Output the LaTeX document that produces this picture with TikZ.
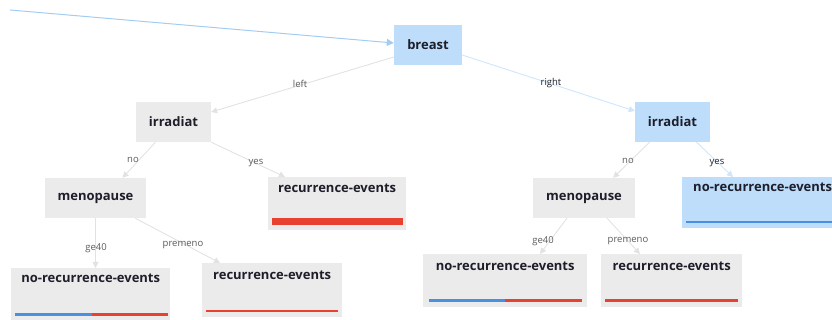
\documentclass[tikz,border=0pt]{standalone}
\usepackage{fontspec}
\setmainfont{Open Sans}
\usetikzlibrary{arrows.meta}
\definecolor{nodegray}{HTML}{EBEBEB}
\definecolor{nodeblue}{HTML}{BDDDFB}
\definecolor{edgegray}{HTML}{E2E2E2}
\definecolor{edgeblue}{HTML}{CFE5FB}
\definecolor{rootblue}{HTML}{A3CCF3}
\definecolor{barred}{HTML}{E8412F}
\definecolor{barblue}{HTML}{4A90E2}
\definecolor{txt}{HTML}{1E1E2A}
\definecolor{lbl}{HTML}{5A5A5A}
\tikzset{
  x=1pt, y=-1pt,
  inner/.style={rectangle, fill=nodegray, text=txt, font=\bfseries\fontsize{13}{15}\selectfont,
    minimum height=40pt, inner sep=0pt},
  leaf/.style={rectangle, fill=nodegray, text=txt, font=\bfseries\fontsize{13}{15}\selectfont,
    anchor=north west, inner sep=0pt},
  isblue/.style={fill=nodeblue},
  edge/.style={draw=edgegray, line width=0.9pt, -{Triangle[length=6pt,width=6pt,fill=edgegray]}},
  bedge/.style={draw=edgeblue, line width=0.9pt, -{Triangle[length=6pt,width=6pt,fill=edgeblue]}},
  elabel/.style={text=lbl, font=\fontsize{9.5}{11}\selectfont, inner sep=1pt},
}
\begin{document}
\begin{tikzpicture}
\useasboundingbox (0,0) rectangle (832,320);
\clip (0,0) rectangle (832,320);

% decision nodes
\node[inner, isblue, minimum width=68pt] (breast) at (428,45) {breast};
\node[inner, minimum width=75pt] (irrL) at (173.5,122) {irradiat};
\node[inner, isblue, minimum width=75pt] (irrR) at (672.5,122) {irradiat};
\node[inner, minimum width=101pt] (menoL) at (95.5,198) {menopause};
\node[inner, minimum width=102pt] (menoR) at (584,198) {menopause};

% leaves: text sits near the top, class bar along the bottom
\node[leaf, minimum width=138pt, text height=15pt, text depth=38pt] (yesL) at (268,177) {recurrence-events};
\node[leaf, isblue, text height=14pt, text depth=37pt] (yesR) at (682,177) {\hspace*{11pt}no-recurrence-events\hspace*{11pt}};
\node[leaf, minimum width=159pt, text height=14pt, text depth=38pt] (ge40L) at (11,268) {no-recurrence-events};
\node[leaf, minimum width=140pt, text height=16pt, text depth=38pt] (premL) at (202,263) {recurrence-events};
\node[leaf, minimum width=164pt, text height=16pt, text depth=37pt] (ge40R) at (423,254) {no-recurrence-events};
\node[leaf, minimum width=141pt, text height=16pt, text depth=37pt] (premR) at (601,254) {recurrence-events};

% class distribution bars
\fill[barred] ([xshift=4pt,yshift=5pt]yesL.south west) rectangle ([xshift=-3pt,yshift=12pt]yesL.south east);
\fill[barblue] ([xshift=4pt,yshift=5pt]yesR.south west) rectangle ([xshift=0pt,yshift=7pt]yesR.south east);
\fill[barblue] ([xshift=4pt,yshift=4pt]ge40L.south west) rectangle ([xshift=81pt,yshift=7pt]ge40L.south west);
\fill[barred] ([xshift=81pt,yshift=4pt]ge40L.south west) rectangle ([xshift=-2pt,yshift=7pt]ge40L.south east);
\fill[barred] ([xshift=4pt,yshift=5pt]premL.south west) rectangle ([xshift=-4pt,yshift=7pt]premL.south east);
\fill[barblue] ([xshift=6pt,yshift=5pt]ge40R.south west) rectangle ([xshift=82pt,yshift=8pt]ge40R.south west);
\fill[barred] ([xshift=82pt,yshift=5pt]ge40R.south west) rectangle ([xshift=-5pt,yshift=8pt]ge40R.south east);
\fill[barred] ([xshift=4pt,yshift=5pt]premR.south west) rectangle ([xshift=-4pt,yshift=8pt]premR.south east);

% incoming connector
\coordinate (start) at (10,10);
\draw[draw=rootblue, line width=1pt, -{Triangle[length=7pt,width=7pt,fill=rootblue]}] (start) -- ([yshift=2pt]breast.west);

% connectors
\draw[edge] ([yshift=-12pt]breast.west) -- ([yshift=10pt]irrL.east);
\draw[bedge] ([yshift=-10pt]breast.east) -- ([yshift=11pt]irrR.west);
\draw[edge] ([xshift=-18pt]irrL.south) -- ([xshift=27pt]menoL.north);
\draw[edge] (irrL.south east) -- ([xshift=17pt]yesL.north west);
\draw[edge] ([xshift=-23pt]irrR.south) -- ([xshift=-22pt]menoR.north east);
\draw[bedge] ([xshift=24pt]irrR.south) -- ([xshift=51pt]yesR.north west);
\draw[edge] (menoL.south) -- (menoL.south |- ge40L.north);
\draw[edge] ([xshift=-11pt]menoL.south east) -- ([xshift=18pt]premL.north west);
\draw[edge] ([xshift=-17pt]menoR.south) -- ([xshift=117pt]ge40R.north west);
\draw[edge] ([xshift=23pt]menoR.south) -- ([xshift=39pt]premR.north west);

% branch labels
\node[elabel] (lleft) at (300,84) {left};
\node[elabel, text=txt] (lright) at (551,83) {right};
\node[elabel] (lnoL) at (133,160) {no};
\node[elabel] (lyesL) at (256,163) {yes};
\node[elabel] (lge40L) at (96,248) {ge40};
\node[elabel] (lpremL) at (183,245) {premeno};
\node[elabel] (lnoR) at (628,161) {no};
\node[elabel, text=txt] (lyesR) at (717,163) {yes};
\node[elabel] (lge40R) at (543,241) {ge40};
\node[elabel] (lpremR) at (628,241) {premeno};
\end{tikzpicture}
\end{document}
